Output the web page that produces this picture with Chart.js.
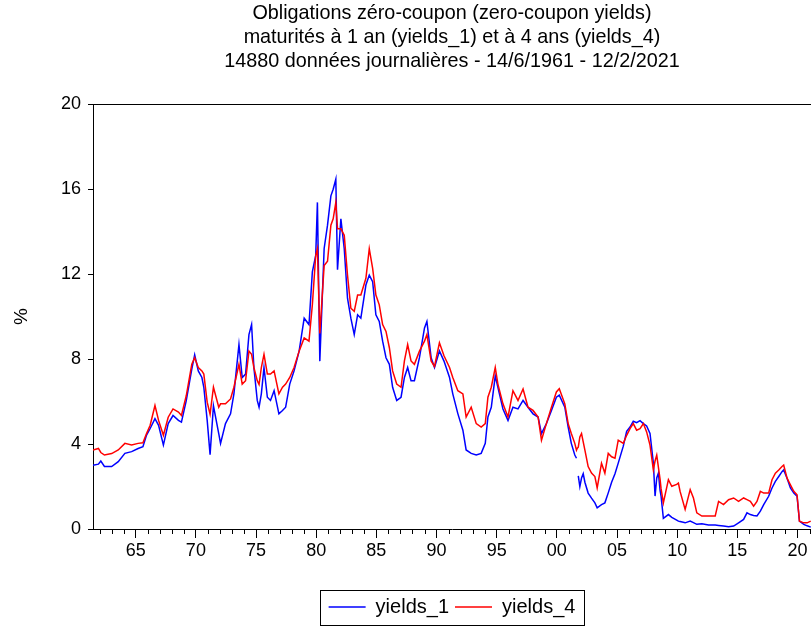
<!DOCTYPE html>
<html>
<head>
<meta charset="utf-8">
<script src="https://cdn.jsdelivr.net/npm/chart.js@4.4.1/dist/chart.umd.min.js"></script>
<style>
    html, body { margin: 0; padding: 0; background: #fff; }
</style>
</head>
<body>
<canvas id="yieldsChart" width="811" height="627"></canvas>
<script>
// Dates (decimal years) and yields
const years = [
    1961.45, 1961.9, 1962.1, 1962.4, 1963.0, 1963.55, 1964.1, 1964.66, 1965.2, 1965.6,
    1965.9, 1966.2, 1966.6, 1966.9, 1967.3, 1967.7, 1968.1, 1968.55, 1968.8, 1969.2,
    1969.66, 1969.9, 1970.2, 1970.5, 1970.66, 1970.94, 1971.18, 1971.46, 1971.9, 1972.05,
    1972.46, 1972.88, 1973.16, 1973.58, 1973.85, 1974.13, 1974.41, 1974.63, 1974.82, 1975.1,
    1975.25, 1975.44, 1975.66, 1975.94, 1976.2, 1976.5, 1976.9, 1977.2, 1977.46, 1977.8,
    1978.16, 1978.58, 1979.0, 1979.4, 1979.68, 1979.96, 1980.1, 1980.3, 1980.66, 1980.94,
    1981.22, 1981.41, 1981.63, 1981.77, 1982.05, 1982.33, 1982.6, 1982.88, 1983.16, 1983.44,
    1983.71, 1984.13, 1984.41, 1984.69, 1984.96, 1985.24, 1985.52, 1985.8, 1986.08, 1986.35,
    1986.69, 1987.05, 1987.33, 1987.6, 1987.88, 1988.16, 1988.58, 1989.0, 1989.2, 1989.55,
    1989.83, 1990.24, 1990.62, 1991.08, 1991.35, 1991.77, 1992.19, 1992.46, 1992.88, 1993.3,
    1993.71, 1994.05, 1994.27, 1994.55, 1994.88, 1995.1, 1995.52, 1995.94, 1996.35, 1996.77,
    1997.19, 1997.6, 1998.02, 1998.44, 1998.72, 1999.13, 1999.55, 1999.96, 2000.2, 2000.66,
    2000.94, 2001.2, 2001.49, 2001.63, 2001.7, 2001.78, 2001.91, 2002.05, 2002.19, 2002.33,
    2002.6, 2002.88, 2003.16, 2003.35, 2003.71, 2003.99, 2004.27, 2004.55, 2004.83, 2005.1,
    2005.52, 2005.8, 2006.08, 2006.35, 2006.63, 2006.91, 2007.19, 2007.46, 2007.74, 2008.02,
    2008.16, 2008.3, 2008.44, 2008.58, 2008.66, 2008.85, 2009.27, 2009.55, 2009.96, 2010.1,
    2010.24, 2010.66, 2011.08, 2011.35, 2011.63, 2012.05, 2012.6, 2013.16, 2013.44, 2013.85,
    2014.27, 2014.69, 2015.1, 2015.52, 2015.8, 2016.08, 2016.35, 2016.63, 2016.91, 2017.19,
    2017.6, 2017.88, 2018.16, 2018.44, 2018.71, 2018.85, 2019.13, 2019.41, 2019.69, 2019.96,
    2020.16, 2020.52, 2020.8, 2021.1
];

const yields1 = [
    3.0, 3.05, 3.2, 2.94, 2.94, 3.17, 3.56, 3.64, 3.79, 3.87,
    4.42, 4.73, 5.19, 4.88, 3.95, 4.96, 5.34, 5.11, 5.03, 6.04,
    7.52, 8.2, 7.44, 7.13, 6.67, 5.11, 3.5, 5.8, 4.49, 4.03,
    4.96, 5.42, 6.36, 8.68, 7.13, 7.29, 9.15, 9.62, 7.6, 6.05,
    5.73, 6.36, 7.6, 6.2, 6.05, 6.51, 5.42, 5.58, 5.73, 6.82,
    7.44, 8.37, 9.92, 9.62, 12.1, 12.88, 15.37, 7.9, 13.2, 14.3,
    15.68, 15.99, 16.46, 12.2, 14.6, 13.19, 10.86, 9.92, 9.15, 10.08,
    9.92, 11.48, 11.95, 11.64, 10.08, 9.77, 8.84, 8.06, 7.75, 6.67,
    6.05, 6.2, 7.13, 7.6, 6.98, 6.98, 8.06, 9.46, 9.77, 8.06,
    7.6, 8.38, 7.9, 7.13, 6.36, 5.43, 4.65, 3.72, 3.56, 3.48,
    3.56, 4.03, 5.27, 5.73, 7.21, 6.67, 5.65, 5.11, 5.73, 5.65,
    6.05, 5.73, 5.42, 5.27, 4.49, 4.96, 5.58, 6.2, 6.3, 5.73,
    4.8, 4.03, 3.48, 3.33, null, 2.5, 2.0, 2.4, 2.6, 2.2,
    1.69, 1.45, 1.23, 1.0, 1.15, 1.23, 1.7, 2.2, 2.6, 3.1,
    3.9, 4.6, 4.8, 5.07, 5.0, 5.1, 4.96, 4.85, 4.5, 3.1,
    1.55, 2.4, 2.63, 1.8, 1.55, 0.5, 0.68, 0.55, 0.42, 0.37,
    0.35, 0.29, 0.37, 0.3, 0.22, 0.25, 0.19, 0.19, 0.17, 0.14,
    0.11, 0.14, 0.29, 0.45, 0.76, 0.68, 0.64, 0.61, 0.84, 1.15,
    1.54, 1.93, 2.24, 2.47, 2.7, 2.78, 2.39, 1.93, 1.69, 1.54,
    0.37, 0.22, 0.15, 0.09
];

const yields4 = [
    3.72, 3.79, 3.6, 3.48, 3.55, 3.72, 4.03, 3.95, 4.03, 4.06,
    4.49, 4.88, 5.81, 5.11, 4.41, 5.26, 5.65, 5.5, 5.34, 6.27,
    7.75, 8.06, 7.6, 7.44, 7.29, 5.97, 5.4, 6.67, 5.73, 5.89,
    5.89, 6.12, 6.67, 7.75, 6.82, 6.98, 8.37, 8.22, 7.6, 6.98,
    6.8, 7.6, 8.22, 7.29, 7.29, 7.44, 6.36, 6.67, 6.82, 7.13,
    7.6, 8.37, 8.99, 8.84, 10.55, 12.88, 13.19, 9.2, 12.4, 12.6,
    14.3, 14.6, 15.37, 14.13, 14.13, 13.82, 11.95, 10.39, 10.24, 11.01,
    11.01, 11.8, 13.19, 12.26, 11.01, 10.55, 9.62, 9.3, 8.53, 7.44,
    6.82, 6.67, 7.91, 8.68, 7.91, 7.75, 8.37, 8.84, 9.15, 7.91,
    7.65, 8.76, 8.15, 7.6, 7.13, 6.51, 6.36, 5.27, 5.73, 4.96,
    4.8, 4.96, 6.2, 6.67, 7.6, 6.82, 5.89, 5.27, 6.51, 6.05,
    6.59, 5.73, 5.58, 5.27, 4.18, 4.96, 5.73, 6.45, 6.6, 5.89,
    4.96, 4.49, 4.03, 3.71, 3.8, 3.85, 4.33, 4.49, 4.1, 3.71,
    2.94, 2.63, 2.47, 1.93, 3.09, 2.63, 3.56, 3.4, 3.33, 4.18,
    4.03, 4.41, 4.72, 4.96, 4.65, 4.72, 4.96, 4.57, 3.95, 2.78,
    3.2, 3.48, 2.9, 2.32, 1.9, 1.23, 2.32, 2.01, 2.1, 2.16,
    1.77, 0.92, 1.85, 1.46, 0.76, 0.61, 0.61, 0.61, 1.3, 1.15,
    1.38, 1.46, 1.3, 1.46, 1.38, 1.3, 1.07, 1.3, 1.77, 1.69,
    1.69, 2.32, 2.63, 2.78, 2.94, 3.01, 2.39, 2.08, 1.77, 1.61,
    0.37, 0.29, 0.29, 0.37
];

// Axis labels every 5 years, small ticks every year
const xTickYears = [1965, 1970, 1975, 1980, 1985, 1990, 1995, 2000, 2005, 2010, 2015, 2020];
const xMinorYears = [];
for (let yr = 1962; yr <= 2021; yr++) if (yr % 5 !== 0) xMinorYears.push(yr);
const yTicks = [0, 4, 8, 12, 16, 20];

const titleLines = [
    "Obligations zéro-coupon (zero-coupon yields)",
    "maturités à 1 an (yields_1) et à 4 ans (yields_4)",
    "14880 données journalières - 14/6/1961 - 12/2/2021"
];

Chart.defaults.font.family = "'Liberation Sans', Arial, sans-serif";
Chart.defaults.color = "#000";

// Top frame line, minor year ticks and the box round the legend
const framePlugin = {
    id: "frame",
    afterDraw(chart) {
        const { ctx, chartArea, scales: { x } } = chart;
        ctx.save();
        ctx.strokeStyle = "#000";
        ctx.lineWidth = 1;
        ctx.beginPath();
        ctx.moveTo(chartArea.left, chartArea.top + 0.5);
        ctx.lineTo(chartArea.right, chartArea.top + 0.5);
        xMinorYears.forEach(yr => {
            const px = Math.round(x.getPixelForValue(yr)) + 0.5;
            ctx.moveTo(px, chartArea.bottom);
            ctx.lineTo(px, chartArea.bottom + 5);
        });
        ctx.stroke();

        const boxes = chart.legend.legendHitBoxes;
        if (boxes && boxes.length) {
            const first = boxes[0];
            const last = boxes[boxes.length - 1];
            const left = Math.round(first.left - 9) + 0.5;
            const right = Math.round(last.left + last.width + 9) + 0.5;
            const top = Math.round(chart.legend.top) - 0.5;
            const bottom = Math.round(chart.legend.bottom) - 1.5;
            ctx.strokeRect(left, top, right - left, bottom - top);
        }
        ctx.restore();
    }
};

const ctx = document.getElementById("yieldsChart");

new Chart(ctx, {
    type: "line",
    data: {
        datasets: [
            {
                label: "yields_1",
                data: years.map((yr, i) => ({ x: yr, y: yields1[i] })),
                borderColor: "#0000ff",
                backgroundColor: "#0000ff",
                borderWidth: 1.5,
                pointRadius: 0,
                spanGaps: false,
                order: 1
            },
            {
                label: "yields_4",
                data: years.map((yr, i) => ({ x: yr, y: yields4[i] })),
                borderColor: "#ff0000",
                backgroundColor: "#ff0000",
                borderWidth: 1.5,
                pointRadius: 0,
                spanGaps: false,
                order: 0
            }
        ]
    },
    options: {
        responsive: false,
        animation: false,
        devicePixelRatio: 1,
        layout: { padding: 0 },
        scales: {
            x: {
                type: "linear",
                min: 1961.45,
                max: 2021.12,
                afterBuildTicks: scale => {
                    scale.ticks = xTickYears.map(v => ({ value: v }));
                },
                afterFit: scale => { scale.height = 62; },
                ticks: {
                    autoSkip: false,
                    maxRotation: 0,
                    padding: 2,
                    font: { size: 18 },
                    color: "#000",
                    callback: v => String(v % 100).padStart(2, "0")
                },
                grid: { drawOnChartArea: false, tickLength: 9, tickColor: "#000" },
                border: { color: "#000", width: 1 }
            },
            y: {
                min: 0,
                max: 20,
                afterBuildTicks: scale => {
                    scale.ticks = yTicks.map(v => ({ value: v }));
                },
                afterFit: scale => { scale.width = 93; },
                ticks: { font: { size: 18 }, color: "#000", padding: 7 },
                grid: { drawOnChartArea: false, tickLength: 5, tickColor: "#000" },
                border: { color: "#000", width: 1 },
                title: {
                    display: true,
                    text: "%",
                    font: { size: 19 },
                    color: "#000",
                    padding: { top: 10, bottom: 0 }
                }
            }
        },
        plugins: {
            title: {
                display: true,
                text: titleLines,
                fullSize: false,
                color: "#000",
                font: { size: 19.8, weight: "normal", lineHeight: 24 / 19.8 },
                padding: { top: 2, bottom: 30 }
            },
            legend: {
                position: "bottom",
                fullSize: false,
                labels: {
                    usePointStyle: true,
                    pointStyle: "line",
                    pointStyleWidth: 37,
                    font: { size: 20 },
                    color: "#000",
                    padding: 6,
                    sort: (a, b) => a.datasetIndex - b.datasetIndex
                }
            },
            tooltip: { enabled: false }
        }
    },
    plugins: [framePlugin]
});
</script>
</body>
</html>
